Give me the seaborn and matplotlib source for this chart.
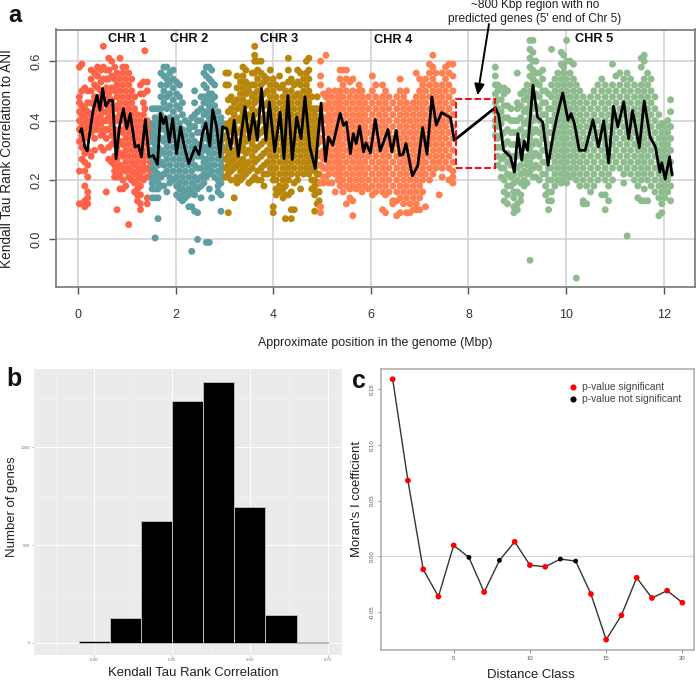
import matplotlib
matplotlib.use("Agg")
import matplotlib.pyplot as plt
from matplotlib.patches import Rectangle
import numpy as np
import pandas as pd
import seaborn as sns

# ---- panel a: scatter columns, (position Mbp, [tau x 100])
chr1_cols = [
 (0.03,[58,48,46,43,40,37,33,23,12]),(0.08,[59,50,45,42,38,35,31,27,12]),
 (0.14,[51,44,41,39,37,34,29,26,23,18,13,11]),(0.20,[50,46,43,40,38,35,30,25,21,16,14,12]),
 (0.27,[57,54,50,46,42,38,36,28]),(0.34,[56,52,48,45,43,40,37,34,30]),
 (0.40,[58,55,51,47,44,41,39,37]),(0.47,[57,53,50,48,45,42,39,35,31]),
 (0.52,[65,58,54,50,47,43,40,37,36,30]),(0.58,[57,54,51,47,43,40,37,34,16]),
 (0.63,[61,57,54,49,45,41,37,31,27]),(0.69,[60,55,51,47,43,39,35,32,26]),
 (0.75,[58,54,50,45,41,37,33,28,25,23,21]),(0.80,[56,52,48,44,40,35,31,27,24,21,10]),
 (0.86,[61,54,50,46,42,37,33,29,25,22,17]),(0.92,[58,56,52,48,44,40,36,32,28,24,20,17]),
 (0.98,[58,54,50,46,42,38,34,30,26,23,18]),(1.04,[56,52,48,44,40,36,32,28,24,21,5]),
 (1.10,[54,50,46,42,38,34,30,26,23,20]),(1.16,[48,44,40,36,32,28,25,22,19,16]),
 (1.22,[42,38,34,30,26,23,20,17,15,13]),(1.28,[52,49,40,36,32,28,24,21,18,15,12,10]),
 (1.34,[53,49,46,42,38,34,30,26,23,20]),(1.37,[63.5,44,36,28,24]),
 (1.42,[53,50,40,36,32,28,24,21,14,12]),(1.48,[38,34,30,26,23,21]),
]
chr2_cols = [
 (1.52,[44,39,36,33,30,27,24,21,19,17,14]),(1.58,[44,41,38,35,32,29,26,23,20,17,14,0.5]),
 (1.64,[44,40,37,34,31,28,25,22,19,17,14,7]),(1.70,[56,52,48,44,42,38,34,30,26,21,18]),
 (1.76,[58,55,50,46,41,37,33,29,25,22,18]),(1.82,[58,54,52,48,44,39,35,31,27,23,16]),
 (1.88,[56,53,49,45,41,37,33,29,25,21,19]),(1.95,[57,54,51,47,43,39,35,31,27,23,20]),
 (2.02,[53,49,45,41,37,33,29,25,21,18,15]),(2.08,[52,48,44,39,35,31,27,23,19,17,14]),
 (2.14,[46,42,37,33,29,25,21,17,15,13]),(2.20,[40,35,31,27,23,19,16,14]),
 (2.27,[39,37,33,29,25,21,17,15,11]),(2.33,[41,38,35,31,27,23,19,16,11,-4]),
 (2.39,[50,46,42,38,33,29,25,21,18,15,9.5]),(2.45,[43,40,36,32,28,24,20,17,9,0]),
 (2.52,[48,44,40,36,32,28,24,21,18,14]),(2.58,[56,52,48,46,42,38,34,30,26,22,19]),
 (2.63,[58,55,51,47,43,39,35,31,27,24,21,-1]),(2.69,[58,54,49,45,41,37,33,29,25,22,17,-1]),
 (2.74,[57,53,49,47,43,39,35,31,27,23,14]),(2.80,[52,48,45,41,37,33,29,25,21]),
 (2.87,[43,39,35,31,27,23,20,18,16]),(2.93,[41,37,33,29,25,22,19,15,9.5]),
 (2.97,[39,35,31,27,24,21]),
]
chr3_cols = [
 (3.03,[56,52,38,34,30,27,24,21]),(3.08,[56,52,47,43,39,36,32,28,25,22,9]),
 (3.14,[48,44,40,37,33,29,26,23,20]),(3.20,[46,42,38,34,30,27,24,14]),
 (3.26,[55,51,47,44,40,36,32,28,25,21,19]),(3.33,[53,49,45,41,37,33,30,26,23,20]),
 (3.38,[58,55,51,47,43,39,35,31,27,24,21]),(3.44,[57,53,49,45,41,37,33,29,25,22]),
 (3.50,[52,50,46,42,38,34,30,26,23,19]),(3.57,[56,52,48,44,40,36,32,28,24,20]),
 (3.62,[65,62,60,56,52,49,46,42,38,34,30,26,21]),(3.68,[60,57,54,50,47,43,39,35,31,27,23,20]),
 (3.75,[60,56,52,48,44,40,36,32,28,24,20]),(3.81,[55,53,49,45,41,37,33,29,25,22,18]),
 (3.88,[54,50,46,42,38,34,30,26,22]),(3.94,[57,52,48,44,40,36,32,28,24]),
 (4.00,[54,50,46,42,38,34,30,26,22,20,11,9]),(4.06,[52,48,44,40,36,32,28,24,20,17,15]),
 (4.13,[55,51,46,42,38,34,30,26,22,18,16]),(4.20,[52,48,44,40,36,32,28,24,20,17,14]),
 (4.25,[50,46,42,38,34,30,26,22,18,15,7]),(4.31,[61,57,53,48,44,40,36,32,28,24,20,15]),
 (4.37,[54,50,46,42,38,34,30,26,22,16,10,7]),(4.43,[52,48,44,40,36,32,28,24,19,10]),
 (4.50,[57,53,49,46,42,38,34,30,26,22,20]),(4.56,[56,52,48,44,40,36,32,28,24,17]),
 (4.62,[54,50,46,42,38,34,30,26,22]),(4.68,[60,56,52,48,44,40,36,32,28,24]),
 (4.73,[61,57,54,50,46,42,38,34,30,26,22]),(4.79,[48,44,40,36,32,28,24,20,17]),
 (4.85,[44,42,38,34,30,26,23,20,18,15,9.5]),(4.90,[48,44,40,36,32,28,25,22,19,16,12]),
 (4.94,[33,29,25,22,19,16,13]),
]
chr4_cols = [
 (4.97,[60,55,52,39,34,29,25,19,11,9]),(5.03,[49,45,41,37,33,30,27,24,21,19]),
 (5.08,[62,48,44,40,36,32,28,24,21]),(5.14,[50,46,42,38,34,30,26,22,19]),
 (5.20,[48,44,40,36,32,28,24,19]),(5.27,[50,46,42,38,34,30,26,22,16]),
 (5.33,[48,44,40,36,32,28,24,20]),(5.37,[57,54,50,46,42,38,34,30,26,22,18]),
 (5.43,[57,52,48,44,40,36,32,28,24,20,16]),(5.50,[57,54,50,46,42,38,34,30,26,22,18,12]),
 (5.57,[53,48,44,40,36,32,28,24,20,17,14]),(5.63,[54,50,46,42,38,34,30,26,22,18,13,8]),
 (5.70,[48,44,40,36,32,28,24,20,17]),(5.76,[52,50,46,42,38,34,30,26,22,18]),
 (5.82,[50,48,44,40,36,32,28,24,20,16]),(5.88,[46,42,38,34,30,26,22,18]),
 (5.95,[48,44,40,36,32,28,24,20,17]),(6.03,[55,50,46,42,38,34,30,26,22,18,15]),
 (6.10,[52,48,44,40,36,32,28,24,20,16]),(6.17,[46,42,38,34,30,26,22,18]),
 (6.24,[52,48,44,40,36,32,28,24,20,16,10]),(6.30,[50,46,42,38,34,30,26,22,18,15,9]),
 (6.37,[48,44,40,36,32,28,24,20,16]),(6.45,[46,42,38,34,30,26,22,18,13,12]),
 (6.53,[48,44,40,36,32,28,24,20,16,13,8]),(6.60,[54,50,46,42,38,34,30,26,22,18,14,9]),
 (6.67,[48,44,40,36,32,28,24,20,16,12]),(6.73,[50,46,42,38,34,30,26,22,18,14,9]),
 (6.80,[44,40,36,32,28,24,20,16,12,9]),(6.87,[46,42,38,34,30,26,22,18,14,10]),
 (6.93,[56,48,44,40,36,32,28,24,20,16,12,10]),(7.00,[54,50,46,42,38,34,30,26,22,18,14,10]),
 (7.06,[52,48,44,40,36,32,28,24,20,16]),(7.12,[54,50,46,42,38,34,30,26,22,11]),
 (7.20,[59,56,52,48,44,40,36,32,28,24,20]),(7.27,[62,58,54,50,46,42,38,34,30,26,22]),
 (7.33,[56,52,48,44,40,36,32,28,24]),(7.40,[50,46,42,38,34,30,26,15]),
 (7.46,[56,52,48,44,40,36,32,28,24,21]),(7.53,[58,54,50,46,42,38,34,30,26]),
 (7.60,[59,56,52,48,44,40,36,32,28,24,20]),(7.68,[59,55,50,46,42,38,34,30,26,23,21,19]),
]
chr5_cols = [
 (8.55,[58,55,52,49,46,43,40,38,35]),(8.60,[52,50,47,44,41,38,34,31,28,25]),
 (8.67,[51,47,43,39,35,31,27,24,21]),(8.73,[51,49,45,41,36,32,28,24,20,16,13]),
 (8.80,[50,45,41,37,33,29,26,22,18,15,12]),(8.87,[44,40,36,32,28,25,21,18]),
 (8.93,[40,36,32,28,25,22,19,16,14,11,9]),(9.00,[56,46,44,40,36,32,28,24,20,16,12,10]),
 (9.07,[49,45,41,37,33,29,25,22,19,15,13]),(9.14,[50,47,43,39,35,31,27,23,20,18]),
 (9.20,[52,48,44,40,36,32,28,25,22,19]),(9.26,[67,64,61,58,55,50,46,42,38,34,30,26,23,-7]),
 (9.32,[67,63,60,57,54,52,48,44,40,36,32,28,24,21]),(9.38,[60,56,53,49,45,41,37,33,29,25,21]),
 (9.45,[56,52,48,44,40,36,32,28,24,20]),(9.52,[57,54,50,46,42,38,34,30,26,22]),
 (9.58,[50,46,42,38,34,30,26,22,18,15]),(9.64,[49,44,40,36,32,28,24,20,16,13,10]),
 (9.70,[64,52,48,44,40,36,32,28,24,20,16,13]),(9.77,[54,50,46,42,38,34,30,26,22,18]),
 (9.83,[56,52,48,44,40,36,32,28,24,20]),(9.90,[63,59,54,50,46,42,38,34,30,26,22,19]),
 (9.95,[62,58,56,52,48,44,40,36,32,28,24,20]),(10.01,[67,60,54,50,46,42,38,34,30,26,22,19]),
 (10.08,[60,56,52,48,44,40,36,32,28,24,21]),(10.15,[59,54,50,46,42,38,34,30,26,22]),
 (10.21,[52,48,44,40,36,32,28,24,20,-13]),(10.28,[50,46,42,38,34,30,26,22,18]),
 (10.35,[48,44,40,36,32,28,24,20,13,12]),(10.42,[46,42,38,34,30,26,22,18,12]),
 (10.50,[48,44,40,36,32,28,24,20,16]),(10.57,[50,46,42,38,34,30,26,22,18]),
 (10.65,[52,48,44,40,36,32,28,24,20]),(10.73,[54,50,46,42,38,34,30,26,22,15]),
 (10.80,[52,48,44,40,36,32,28,24,20,15,10]),(10.87,[50,46,42,38,34,30,26,22,18,13]),
 (10.95,[59,52,48,44,40,36,32,28,24,20]),(11.02,[55,50,46,42,38,34,30,26]),
 (11.10,[56,52,48,44,40,36,32,28,24]),(11.18,[54,50,46,42,38,34,30,26,22,19]),
 (11.25,[56,52,48,44,40,36,32,28,24,1.2]),(11.32,[54,50,46,42,38,34,30,26,22]),
 (11.40,[52,48,44,40,36,32,28,24,20]),(11.47,[50,46,42,38,34,30,26,22,18,14]),
 (11.54,[61,58,52,48,44,40,36,32,28,24,20,13]),(11.60,[62,60,54,50,46,42,38,34,30,26,22,17,13]),
 (11.67,[56,52,48,44,40,36,32,28,24,20,13]),(11.74,[54,50,46,42,38,34,30,26,22,18]),
 (11.82,[48,44,40,36,32,28,24,20,16]),(11.90,[42,38,34,30,26,22,18,14,8]),
 (11.96,[39,36,32,28,24,20,16,12,9]),(12.02,[38,34,30,26,22,18,14]),
 (12.08,[40,36,32,28,24,20,16]),(12.14,[47,43,38,34,30,26,22,18,13]),
]
chrom_names = ["CHR 1", "CHR 2", "CHR 3", "CHR 4", "CHR 5"]
chrom_colors = ["#FF6347", "#5F9EA0", "#B8860B", "#FF7F50", "#8FBC8F"]

trend_x = [0.04,0.075,0.14,0.19,0.25,0.31,0.39,0.45,0.505,0.57,0.64,0.71,0.78,0.85,0.93,1.0,1.07,1.17,1.24,1.30,
 1.38,1.455,1.54,1.63,1.69,1.75,1.80,1.87,1.94,2.02,2.10,2.18,2.27,2.40,2.48,2.55,2.62,2.70,2.76,2.84,2.91,2.96,
 3.05,3.13,3.20,3.285,3.42,3.51,3.59,3.675,3.76,3.85,3.92,4.03,4.14,4.22,4.30,4.39,4.48,4.57,4.65,4.75,4.86,4.98,
 5.07,5.13,5.22,5.37,5.44,5.50,5.58,5.64,5.70,5.77,5.85,5.90,5.99,6.09,6.19,6.26,6.35,6.43,6.52,6.59,6.66,6.72,
 6.85,6.96,7.06,7.15,7.25,7.34,7.45,7.63,7.71,8.55,8.62,8.72,8.86,8.94,9.01,9.09,9.14,9.21,9.32,9.415,9.52,9.63,
 9.74,9.81,9.93,10.04,10.10,10.17,10.27,10.39,10.55,10.66,10.77,10.87,10.97,11.06,11.18,11.28,11.36,11.50,11.60,
 11.72,11.83,11.92,11.96,12.03,12.12,12.17]
trend_y = [.362,.373,.311,.298,.368,.435,.485,.435,.508,.448,.468,.468,.272,.379,.44,.373,.424,.311,.317,.278,
 .404,.278,.283,.253,.424,.39,.412,.328,.407,.289,.379,.311,.255,.311,.286,.356,.392,.314,.437,.379,.278,.379,
 .373,.304,.401,.28,.446,.334,.424,.334,.508,.334,.463,.295,.429,.272,.485,.269,.412,.339,.48,.311,.239,.459,
 .263,.345,.317,.424,.384,.395,.289,.356,.323,.381,.295,.325,.291,.404,.298,.328,.37,.295,.367,.283,.287,.323,
 .214,.248,.377,.287,.48,.385,.427,.41,.334,.444,.418,.30,.278,.227,.356,.267,.332,.30,.519,.412,.395,.25,
 .356,.412,.493,.401,.424,.39,.30,.30,.403,.311,.399,.258,.448,.379,.463,.339,.434,.309,.466,
 .345,.311,.227,.258,.203,.278,.218]

# ---- panel b
hist_centers = [0.0, 0.1, 0.2, 0.3, 0.4, 0.5, 0.6, 0.7]
hist_counts = [8, 128, 621, 1240, 1336, 696, 142, 6]

# ---- panel c
dist_class = list(range(1, 21))
moran_i = [.1588,.068,-.0116,-.036,.0099,-.0009,-.032,-.0036,.0131,-.0078,-.0093,-.0024,-.0042,-.0337,-.0746,-.0528,-.0191,-.0373,-.0307,-.0415]
not_signif = [6, 8, 12, 13]
sig_labels = ["p-value significant", "p-value not significant"]

sns.set_theme(style="white")
plt.rcParams["font.family"] = ["Liberation Sans", "DejaVu Sans"]
W, H = 696, 682
fig = plt.figure(figsize=(W/100, H/100), dpi=100, facecolor="white")
def axpx(l, t, r, b):
    return fig.add_axes([l/W, 1-b/H, (r-l)/W, (b-t)/H])

# --- a
ax = axpx(56, 29.5, 695, 287)
rows = []
for name, cols in zip(chrom_names, [chr1_cols, chr2_cols, chr3_cols, chr4_cols, chr5_cols]):
    for x, ys in cols:
        for y in ys:
            rows.append((name, x, y/100))
df = pd.DataFrame(rows, columns=["chrom", "pos", "tau"])
ax.set_axisbelow(True)
ax.grid(True, color="#cfcfcf", lw=1.1)
sns.scatterplot(data=df, x="pos", y="tau", hue="chrom", palette=dict(zip(chrom_names, chrom_colors)),
                s=25, linewidth=0, alpha=1, legend=False, ax=ax, zorder=2)
sns.lineplot(x=trend_x, y=trend_y, color="black", lw=2, sort=False, estimator=None, ax=ax, zorder=3)
ax.set_xlim(-0.45, 12.64); ax.set_ylim(-0.16, 0.7066)
ax.set_xticks(range(0, 13, 2)); ax.set_yticks([0, .2, .4, .6])
ax.set_yticklabels(["0.0", "0.2", "0.4", "0.6"], rotation=90, va="center")
ax.tick_params(length=5, width=1, color="#555555", labelsize=9, labelcolor="#333333", pad=7, bottom=True, left=True)
ax.tick_params(axis="x", pad=11)
ax.tick_params(axis="y", pad=5)
for s in ax.spines.values():
    s.set_color("#777777"); s.set_linewidth(1.2)
ax.set_xlabel("Approximate position in the genome (Mbp)", fontsize=8.9, color="#222222")
ax.xaxis.label.set_va("center"); ax.xaxis.set_label_coords((375-56)/639, -(343-287)/257.5)
ax.set_ylabel("Kendall Tau Rank Correlation to ANI", fontsize=9.8, color="#222222")
ax.yaxis.label.set_va("center"); ax.yaxis.set_label_coords((7-56)/639, 0.5)
for name, x, y in zip(chrom_names, [1.0, 2.27, 4.13, 6.45, 10.58], [.673, .673, .673, .67, .673]):
    ax.text(x, y, name, ha="center", va="center", fontsize=9.2, fontweight="bold", color="#111111")
ax.add_patch(Rectangle((7.74, .241), 0.81, .232, fill=False, ec="#e8141c", lw=1.5, ls=(0, (3.2, 1.3)), zorder=4))
ax.annotate("", xy=(8.186, .485), xytext=(8.42, .725), annotation_clip=False,
            arrowprops=dict(arrowstyle="-|>,head_width=0.25,head_length=0.55", color="black", lw=1.4, shrinkA=0, shrinkB=0))
fig.text(535/W, 1-12/H, "~800 Kbp region with no\npredicted genes (5' end of Chr 5)", ha="center", va="center",
         fontsize=8.6, color="#222222", linespacing=1.2)
fig.text(8/W, 1-16/H, "a", fontsize=17, fontweight="bold", va="center", color="#111111")

# --- b
ax = axpx(33.5, 368.5, 342, 655)
ax.set_facecolor("#ebebeb")
ax.set_axisbelow(True)
ax.grid(True, which="major", color="white", lw=0.7)
sns.barplot(x=hist_centers, y=hist_counts, native_scale=True, width=1, color="black", saturation=1,
            edgecolor="#bbbbbb", linewidth=0.7, ax=ax, zorder=2)
ax.set_xlim(-0.196, 0.796); ax.set_ylim(-63, 1404)
ax.set_xticks([0, .25, .5, .75]); ax.set_xticklabels(["0.00", "0.25", "0.50", "0.75"])
ax.set_yticks([0, 500, 1000]); ax.set_yticklabels(["0", "500", "1000"])
ax.set_xticks([-.125, .125, .375, .625], minor=True); ax.set_yticks([250, 750, 1250], minor=True)
ax.grid(True, which="minor", color="#f5f5f5", lw=0.4)
ax.tick_params(which="minor", length=0)
ax.tick_params(which="major", length=1.5, width=0.4, color="#888888", labelsize=3.2, labelcolor="#777777", pad=1, bottom=True, left=True)
for s in ax.spines.values():
    s.set_visible(False)
ax.set_xlabel("Kendall Tau Rank Correlation", fontsize=9.45, color="#222222")
ax.xaxis.label.set_va("center"); ax.xaxis.set_label_coords((193-33.5)/308.5, -(673-655)/286.5)
ax.set_ylabel("Number of genes", fontsize=9.45, color="#222222")
ax.yaxis.label.set_va("center"); ax.yaxis.set_label_coords((12-33.5)/308.5, (655-507)/286.5)
fig.text(6/W, 1-379/H, "b", fontsize=18, fontweight="bold", va="center", color="#111111")

# --- c
ax = axpx(381, 368.5, 694, 650)
ax.set_axisbelow(True)
ax.axhline(0, color="#d9d9d9", lw=0.9)
sns.lineplot(x=dist_class, y=moran_i, color="#333333", lw=1, ax=ax, zorder=2, estimator=None)
status = [sig_labels[1] if d in not_signif else sig_labels[0] for d in dist_class]
sizes = dict(zip(sig_labels, [17, 12]))
sns.scatterplot(x=dist_class, y=moran_i, hue=status, hue_order=sig_labels, palette=dict(zip(sig_labels, ["#ff0000", "black"])),
                size=status, sizes=sizes, linewidth=0, ax=ax, zorder=3, legend=False)
for lab, col, ypx in zip(sig_labels, ["#ff0000", "black"], [387, 399]):
    ax.plot([(350+668/3-381)/313], [(650-ypx)/281.5], "o", ms=4.4, color=col, mew=0, transform=ax.transAxes)
    ax.text((350+695/3-381)/313, (650-ypx)/281.5, lab, transform=ax.transAxes, fontsize=7.4, va="center", color="#444444")
ax.set_xlim(0.235, 20.76); ax.set_ylim(-.0839, .1684)
ax.set_xticks([5, 10, 15, 20]); ax.set_yticks([-.05, 0, .05, .1, .15])
ax.set_yticklabels(["-0.05", "0.00", "0.05", "0.10", "0.15"], rotation=90, va="center")
ax.tick_params(length=2.5, width=0.6, color="#777777", labelsize=4.3, labelcolor="#555555", pad=2, bottom=True, left=True)
for s in ax.spines.values():
    s.set_color("#b0b0b0"); s.set_linewidth(1.2)
ax.set_xlabel("Distance Class", fontsize=9.45, color="#222222")
ax.xaxis.label.set_va("center"); ax.xaxis.set_label_coords((531-381)/313, -(675-650)/281.5)
ax.set_ylabel("Moran's I coefficient", fontsize=9.45, color="#222222")
ax.yaxis.label.set_va("center"); ax.yaxis.set_label_coords((357-381)/313, (650-499)/281.5)
fig.text(352/W, 1-381/H, "c", fontsize=18, fontweight="bold", va="center", color="#111111")

fig.savefig("out.png", dpi=100)
